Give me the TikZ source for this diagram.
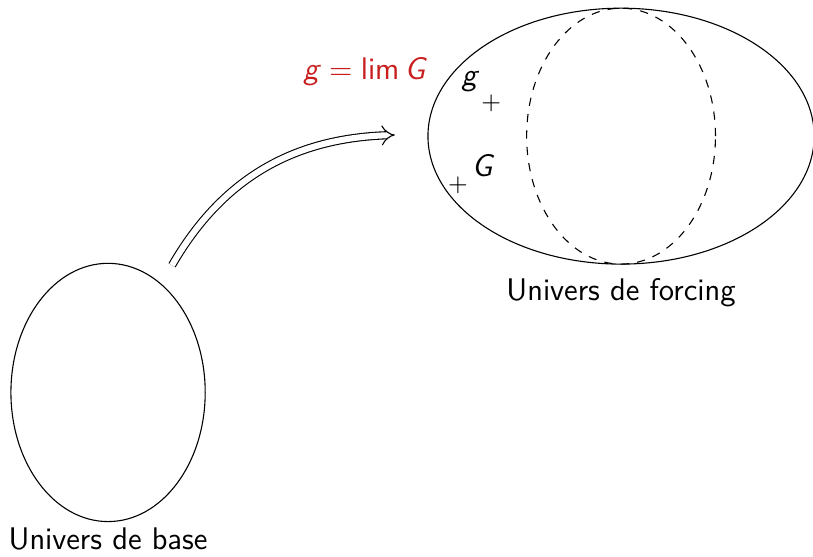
\documentclass[tikz,border=0pt]{standalone}
\usetikzlibrary{shapes.geometric,arrows.meta}
\renewcommand{\familydefault}{\sfdefault}
\definecolor{limred}{RGB}{200,30,30}
\tikzset{
  every node/.style={font=\fontsize{11.4}{14}\selectfont},
  univers/.style={draw, ellipse, inner sep=0pt},
  pointmark/.style={inner sep=0pt, font=\small},
}
\begin{document}
\begin{tikzpicture}
			\useasboundingbox (0,0) rectangle (10.42,7.13);
			
			% Univers de base
			\node[univers, minimum width=2.49cm, minimum height=3.31cm] (base) at (1.385,2.10) {};
			\node (baselab) at (1.385,0.22) {Univers de base};
			
			% Univers de forcing
			\node[univers, minimum width=4.95cm, minimum height=3.28cm] (forcing) at (7.96,5.385) {};
			\node[univers, dashed, minimum width=2.42cm, minimum height=3.28cm] (inner) at (7.96,5.385) {};
			\node (forcinglab) at (7.96,3.38) {Univers de forcing};
			
			% Points g et G
			\node[pointmark] (pg) at (6.295,5.81) {$+$};
			\node[pointmark] (pG) at (5.87,4.76) {$+$};
			\node (lg) at (6.03,6.08) {\textit{g}};
			\node (lG) at (6.19,5.01) {\textit{G}};
			\node[limred] (lim) at (4.68,6.21) {\textit{g}${}={}$lim\,\textit{G}};
			
			% Fleche
			\coordinate (from) at (2.205,3.73);
			\coordinate (to) at (5.06,5.40);
			\draw[double, double distance=2.2pt, -{Implies}] (from) to[out=60, in=182] (to);
\end{tikzpicture}
\end{document}
